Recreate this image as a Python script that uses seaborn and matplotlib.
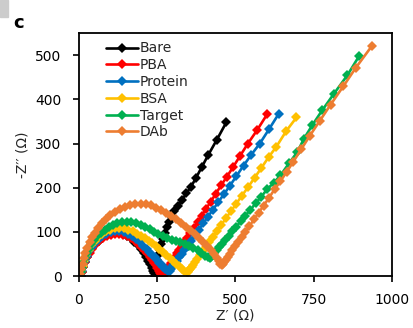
import matplotlib
matplotlib.use("Agg")
import matplotlib.pyplot as plt
import seaborn as sns
import pandas as pd
from matplotlib.patches import Rectangle

series_names = ["Bare", "PBA", "Protein", "BSA", "Target", "DAb"]
colors = ["#000000", "#FF0000", "#0070C0", "#FFC000", "#00B050", "#ED7D31"]

bare_x = [6, 9, 13, 18, 25, 33, 42, 52, 63, 75, 88, 101, 114, 127, 140, 153, 165, 177, 188, 198,
          207, 215, 222, 228, 233, 237, 240, 242, 243, 244, 245,
          246, 247, 249, 251, 254, 258, 263, 268, 274, 281, 288, 296, 305, 316, 329, 343, 358, 374,
          392, 414, 441, 471]
bare_y = [0, 10, 20, 31, 42, 53, 63, 72, 80, 87, 92, 96, 97, 97, 95, 91, 85, 78, 70, 61,
          52, 43, 35, 27, 19, 12, 6, 1, -3, -5, -4,
          4, 14, 25, 36, 48, 60, 72, 84, 97, 110, 122, 134, 147, 159, 172, 187, 202, 222,
          246, 275, 309, 348]

pba_x = [7, 10, 14, 19, 26, 34, 43, 53, 64, 76, 89, 102, 115, 128, 141, 154, 167, 179, 190, 200,
         209, 218, 226, 233, 239, 245, 250, 255, 259, 263, 266, 268,
         271, 274, 278, 283, 288, 294, 300, 307, 314, 321, 329, 337, 346, 356, 367, 379, 392, 406,
         421, 437, 454, 472, 492, 514, 539, 569, 602]
pba_y = [0, 10, 20, 31, 42, 52, 62, 71, 79, 85, 90, 93, 95, 95, 93, 90, 85, 79, 72, 65,
         58, 51, 44, 37, 30, 24, 18, 12, 7, 3, 0, -1,
         3, 7, 11, 17, 22, 29, 35, 43, 51, 58, 67, 76, 86, 97, 109, 122, 136, 152,
         168, 186, 205, 224, 246, 271, 299, 330, 367]

protein_x = [6, 9, 13, 18, 25, 33, 42, 52, 63, 75, 88, 101, 115, 129, 143, 157, 170, 183, 195, 206,
             216, 225, 234, 242, 250, 257, 264, 270, 276, 281, 286, 290,
             295, 298, 302, 307, 313, 320, 328, 337, 347, 358, 370, 383, 397, 412, 428, 445, 463,
             482, 503, 526, 550, 578, 607, 639]
protein_y = [0, 11, 22, 33, 45, 56, 66, 75, 83, 90, 95, 99, 101, 101, 99, 95, 90, 83, 76, 69,
             62, 55, 48, 42, 36, 30, 25, 21, 17, 14, 12, 12,
             16, 20, 24, 29, 35, 42, 50, 59, 69, 80, 92, 105, 119, 134, 150, 167, 185,
             204, 226, 250, 274, 300, 332, 368]

bsa_x = [5, 8, 12, 17, 23, 31, 40, 50, 61, 73, 86, 100, 114, 128, 143, 158, 172, 186, 199, 211,
         223, 235, 246, 257, 268, 279, 290, 300, 310, 320, 329, 337, 344, 348,
         352, 356, 360, 365, 371, 378, 386, 395, 405, 416, 428, 441, 455, 470, 486, 503, 521,
         540, 561, 583, 607, 631, 663, 695]
bsa_y = [0, 11, 23, 35, 47, 59, 70, 80, 88, 95, 101, 105, 108, 109, 108, 105, 101, 96, 91, 86,
         80, 74, 68, 61, 55, 48, 41, 35, 28, 22, 17, 12, 9, 9,
         13, 17, 21, 26, 32, 39, 47, 56, 66, 77, 89, 102, 116, 131, 147, 164, 182,
         201, 222, 245, 270, 293, 329, 359]

target_x = [4, 7, 10, 14, 19, 25, 32, 40, 49, 59, 70, 82, 95, 109, 123, 138, 153, 168, 183, 198,
            212, 226, 240, 254, 268, 282, 296, 310, 324, 338, 352, 366, 379, 391, 402, 411, 418,
            422, 427, 433, 440, 448, 457, 467, 478, 490, 503, 517, 532, 548, 565, 583, 602, 622,
            644, 671, 698, 719, 746, 778, 815, 858, 895]
target_y = [0, 9, 19, 29, 40, 51, 62, 72, 81, 90, 98, 105, 111, 116, 120, 122, 123, 122, 120, 116,
            111, 106, 100, 95, 90, 86, 82, 79, 76, 73, 69, 64, 58, 52, 46, 42, 40,
            43, 48, 53, 59, 66, 73, 82, 91, 101, 112, 124, 137, 150, 165, 180, 197, 211,
            228, 255, 281, 311, 342, 376, 413, 455, 498]

dab_x = [3, 5, 8, 12, 16, 21, 27, 34, 42, 51, 61, 73, 86, 100, 115, 131, 147, 163, 180, 197,
         214, 230, 246, 262, 278, 294, 310, 326, 341, 356, 370, 384, 398, 410, 421, 431, 440,
         447, 452, 456,
         460, 464, 469, 475, 482, 490, 499, 509, 520, 532, 545, 559, 574, 590, 607, 625, 644,
         664, 685, 711, 738, 770, 804, 845, 885, 935]
dab_y = [-4, 5, 16, 28, 40, 52, 64, 76, 88, 98, 108, 120, 130, 138, 146, 152, 157, 161, 164, 164,
         163, 160, 155, 150, 143, 135, 128, 120, 112, 104, 96, 87, 78, 68, 58, 49, 40,
         33, 28, 25,
         28, 32, 37, 43, 50, 58, 67, 77, 88, 100, 113, 128, 143, 159, 177, 196, 215,
         236, 259, 288, 318, 352, 388, 430, 472, 520]

x_ticks = [0, 250, 500, 750, 1000]
y_ticks = [0, 100, 200, 300, 400, 500]

all_x = [bare_x, pba_x, protein_x, bsa_x, target_x, dab_x]
all_y = [bare_y, pba_y, protein_y, bsa_y, target_y, dab_y]

frames = []
for name, xs, ys in zip(series_names, all_x, all_y):
    frames.append(pd.DataFrame({"series": name, "x": xs, "y": ys, "order": range(len(xs))}))
df = pd.concat(frames, ignore_index=True)

sns.set_theme(style="white")
plt.rcParams["font.family"] = ["DejaVu Sans"]

fig = plt.figure(figsize=(4.13, 3.28), dpi=100)
ax = fig.add_axes([0.191, 0.1585, 0.758, 0.7405])

sns.lineplot(data=df, x="x", y="y", hue="series", hue_order=series_names,
             palette=dict(zip(series_names, colors)), sort=False, estimator=None,
             marker="D", markersize=5.2, markeredgewidth=0, linewidth=1.9, ax=ax)

ax.set_xlim(0, 1000)
ax.set_ylim(0, 550)
ax.set_xticks(x_ticks)
ax.set_yticks(y_ticks)
ax.tick_params(axis="both", which="major", direction="out", length=4.5, width=1.2,
               labelsize=10, colors="black", bottom=True, left=True, pad=8)
for sp in ax.spines.values():
    sp.set_visible(True)
    sp.set_color("black")
    sp.set_linewidth(1.3)
ax.set_xlabel("Z′ (Ω)", fontsize=10, labelpad=1)
ax.set_ylabel("-Z′′ (Ω)", fontsize=10, labelpad=4)

leg = ax.legend(loc="upper left", bbox_to_anchor=(0.06, 1.0), frameon=False, fontsize=10,
                handlelength=2.3, handletextpad=0.15, labelspacing=0.2, borderaxespad=0.2)

fig.patches.append(Rectangle((0, 1 - 17 / 328), 8 / 413, 17 / 328, transform=fig.transFigure,
                             color="#cccccc", zorder=0))
fig.text(13 / 413, 1 - 28 / 328, "c", fontsize=13, fontweight="bold", color="black")

fig.savefig("out.png", dpi=100)
